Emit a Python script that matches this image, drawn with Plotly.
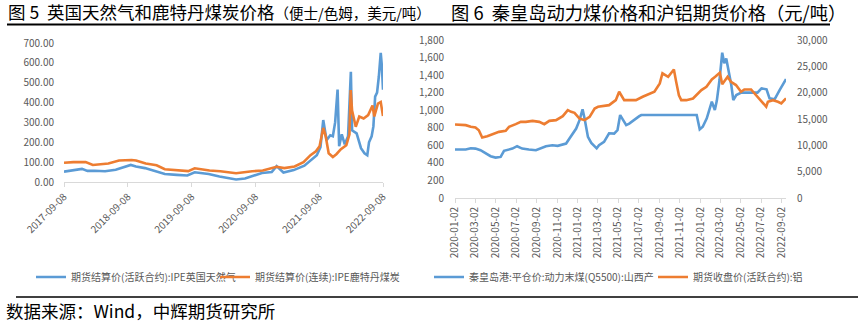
import plotly.graph_objects as go

# ---------------- Left chart data (Fig 5) ----------------
gas_dates = ["2017-09-08","2017-10-15","2017-12-20","2018-01-20","2018-03-01","2018-05-01","2018-07-01",
             "2018-09-25","2018-10-25","2018-12-15","2019-02-15","2019-04-08","2019-06-15","2019-08-15",
             "2019-09-26","2019-12-15","2020-02-15","2020-04-15","2020-05-20","2020-07-10","2020-08-20",
             "2020-10-15","2020-12-10","2021-01-07","2021-02-15","2021-04-15","2021-06-15","2021-07-25",
             "2021-08-25","2021-09-15","2021-10-01","2021-10-20","2021-11-10","2021-11-25","2021-12-08",
             "2021-12-22","2021-12-31","2022-01-15","2022-02-01","2022-02-20","2022-03-08","2022-03-15",
             "2022-04-10","2022-05-05","2022-05-25","2022-06-10","2022-06-20","2022-07-05","2022-07-15",
             "2022-07-25","2022-08-05","2022-08-15","2022-08-26","2022-09-01","2022-09-08"]
gas_vals = [52, 56, 66, 56, 57, 54, 62,
            86, 78, 70, 55, 40, 36, 33,
            49, 40, 28, 20, 13, 18, 28,
            45, 50, 80, 48, 60, 82, 110,
            135, 175, 312, 210, 235, 230, 300,
            465, 180, 240, 190, 230, 555, 260,
            245, 170, 145, 135, 200, 230, 280,
            430, 450, 530, 650, 590, 465]

coal_dates = ["2017-09-08","2017-11-01","2018-01-10","2018-02-20","2018-05-20","2018-07-20","2018-09-30",
              "2018-10-25","2018-12-20","2019-02-20","2019-04-08","2019-06-20","2019-08-20","2019-09-26",
              "2019-12-20","2020-02-20","2020-04-20","2020-05-20","2020-08-20","2020-10-20","2021-01-07",
              "2021-02-20","2021-04-20","2021-06-10","2021-07-20","2021-08-20","2021-09-10","2021-10-01",
              "2021-10-15","2021-11-01","2021-11-25","2021-12-15","2022-01-10","2022-02-10","2022-02-28",
              "2022-03-07","2022-03-15","2022-04-05","2022-04-25","2022-05-20","2022-06-15","2022-07-10",
              "2022-07-20","2022-08-10","2022-08-26","2022-09-08"]
coal_vals = [97, 100, 100, 86, 93, 108, 111,
             108, 93, 84, 64, 60, 55, 69,
             58, 54, 45, 44, 54, 58, 77,
             70, 78, 100, 135, 155, 180, 272,
             230, 145, 126, 140, 165, 185, 240,
             463, 360, 278, 330, 320, 337, 385,
             330, 395, 403, 332]

left_xticks = ["2017-09-08","2018-09-08","2019-09-08","2020-09-08","2021-09-08","2022-09-08"]

# ---------------- Right chart data (Fig 6) ----------------
qhd_dates = ["2020-01-02","2020-02-03","2020-02-18","2020-03-03","2020-03-18","2020-04-02","2020-04-17",
             "2020-05-02","2020-05-17","2020-05-27","2020-06-21","2020-07-05","2020-07-20","2020-08-09",
             "2020-08-30","2020-09-29","2020-10-18","2020-11-03","2020-11-28","2020-12-08","2020-12-28",
             "2021-01-07","2021-01-16","2021-01-22","2021-02-01","2021-02-11","2021-02-27","2021-03-06",
             "2021-03-21","2021-04-05","2021-04-20","2021-04-30","2021-05-08","2021-05-26","2021-06-04",
             "2021-07-04","2021-07-10","2021-12-22","2021-12-31","2022-01-09","2022-01-21","2022-02-05",
             "2022-02-14","2022-02-20","2022-02-28","2022-03-08","2022-03-14","2022-03-20","2022-03-29",
             "2022-04-04","2022-04-10","2022-04-19","2022-05-04","2022-06-21","2022-07-03","2022-07-18",
             "2022-07-27","2022-08-11","2022-08-26","2022-09-14"]
qhd_vals = [552, 552, 567, 563, 544, 506, 476,
            460, 468, 537, 563, 590, 563, 552,
            544, 590, 601, 594, 620, 677, 791,
            887, 1010, 906, 696, 628, 566, 601,
            639, 737, 734, 772, 945, 831, 848,
            932, 945, 945, 782, 812, 907, 1097,
            1002, 1110, 1344, 1655, 1534, 1590, 1420,
            1287, 1116, 1173, 1200, 1200, 1249, 1238,
            1135, 1124, 1230, 1355]

al_dates = ["2020-01-02","2020-02-03","2020-02-18","2020-03-03","2020-03-13","2020-03-23","2020-04-07",
            "2020-04-22","2020-05-12","2020-06-01","2020-06-11","2020-07-01","2020-07-16","2020-07-31",
            "2020-08-20","2020-09-09","2020-09-24","2020-10-09","2020-10-29","2020-11-18","2020-12-03",
            "2020-12-13","2020-12-23","2021-01-07","2021-01-22","2021-02-06","2021-02-21","2021-03-03",
            "2021-03-16","2021-04-05","2021-04-25","2021-05-05","2021-05-20","2021-06-04","2021-06-24",
            "2021-07-14","2021-08-03","2021-08-18","2021-09-03","2021-09-11","2021-09-28","2021-10-15",
            "2021-10-22","2021-10-30","2021-11-06","2021-11-21","2021-12-11","2021-12-26","2022-01-05",
            "2022-01-20","2022-02-05","2022-02-15","2022-03-01","2022-03-08","2022-03-24","2022-04-03",
            "2022-04-18","2022-05-03","2022-05-13","2022-06-02","2022-06-17","2022-07-02","2022-07-17",
            "2022-07-22","2022-08-06","2022-08-21","2022-08-31","2022-09-14"]
al_vals = [13950, 13830, 13510, 13380, 12870, 11480, 11730,
           12110, 12560, 12750, 13510, 14020, 14460, 14460,
           14650, 14460, 14020, 14650, 14780, 15540, 16680,
           16360, 16170, 15090, 14780, 15410, 17000, 17310,
           17440, 17630, 18580, 20170, 18580, 18580, 18580,
           19220, 19850, 20170, 21750, 23680, 23020, 24400,
           22000, 19500, 18580, 18580, 18900, 19980, 20490,
           21120, 22510, 23020, 23780, 21600, 23020, 22070,
           21440, 20170, 20610, 20610, 19530, 18270, 17340,
           18270, 18580, 18270, 17950, 18930]

right_xticks = ["2020-01-02","2020-03-02","2020-05-02","2020-07-02","2020-09-02","2020-11-02",
                "2021-01-02","2021-03-02","2021-05-02","2021-07-02","2021-09-02","2021-11-02",
                "2022-01-02","2022-03-02","2022-05-02","2022-07-02","2022-09-02"]

BLUE = "#5B9BD5"
ORANGE = "#ED7D31"
GRAY = "#595959"
FONT = "Noto Sans CJK SC"
W, H = 866, 322


def px(x):
    return x / W


def py(y):
    return 1 - y / H


fig = go.Figure()
fig.add_trace(go.Scatter(x=gas_dates, y=gas_vals, mode="lines", line=dict(color=BLUE, width=2.6),
                         name="期货结算价(活跃合约):IPE英国天然气", xaxis="x", yaxis="y", legend="legend"))
fig.add_trace(go.Scatter(x=coal_dates, y=coal_vals, mode="lines", line=dict(color=ORANGE, width=2.6),
                         name="期货结算价(连续):IPE鹿特丹煤炭", xaxis="x", yaxis="y", legend="legend2"))
fig.add_trace(go.Scatter(x=qhd_dates, y=qhd_vals, mode="lines", line=dict(color=BLUE, width=2.6),
                         name="秦皇岛港:平仓价:动力末煤(Q5500):山西产", xaxis="x2", yaxis="y2", legend="legend3"))
fig.add_trace(go.Scatter(x=al_dates, y=al_vals, mode="lines", line=dict(color=ORANGE, width=2.6),
                         name="期货收盘价(活跃合约):铝", xaxis="x2", yaxis="y3", legend="legend4"))

tickfont = dict(family=FONT, size=10, color=GRAY)
legfont = dict(family=FONT, size=10, color=GRAY)


def leg(xpix):
    return dict(orientation="h", x=px(xpix), xanchor="left", y=py(277), yanchor="middle",
                font=legfont, itemwidth=30, bgcolor="rgba(0,0,0,0)", borderwidth=0)


fig.update_layout(
    width=W, height=H, autosize=False,
    margin=dict(l=0, r=0, t=0, b=0, pad=0, autoexpand=False),
    paper_bgcolor="white", plot_bgcolor="white",
    font=dict(family=FONT, color=GRAY),
    xaxis=dict(domain=[px(64), px(383)], anchor="y", type="date", automargin=False,
               range=["2017-09-08", "2022-09-08"],
               tickvals=left_xticks, ticktext=left_xticks, tickangle=-45,
               ticks="outside", ticklen=4, tickcolor="#D9D9D9",
               showline=True, linecolor="#D9D9D9", linewidth=1,
               showgrid=False, zeroline=False, tickfont=tickfont),
    yaxis=dict(domain=[py(182), py(43)], anchor="x", range=[0, 700], dtick=100, automargin=False,
               tickformat=".2f", showgrid=False, zeroline=False, showline=False,
               ticks="", ticklabelstandoff=9, tickfont=tickfont),
    xaxis2=dict(domain=[px(455), px(786)], anchor="y2", type="date", automargin=False,
                range=["2020-01-02", "2022-09-14"],
                tickvals=right_xticks, ticktext=right_xticks, tickangle=-90,
                ticks="outside", ticklen=4, tickcolor="#D9D9D9",
                showline=True, linecolor="#D9D9D9", linewidth=1,
                showgrid=False, zeroline=False, tickfont=tickfont),
    yaxis2=dict(domain=[py(198), py(40)], anchor="x2", range=[0, 1800], dtick=200, automargin=False,
                tickformat=",", showgrid=False, zeroline=False, showline=False,
                ticks="", ticklabelstandoff=10, tickfont=tickfont),
    yaxis3=dict(domain=[py(198), py(40)], anchor="x2", overlaying="y2", side="right", automargin=False,
                range=[0, 30000], dtick=5000, tickformat=",",
                showgrid=False, zeroline=False, showline=False,
                ticks="", ticklabelstandoff=10, tickfont=tickfont),
    legend=leg(31),
    legend2=leg(215),
    legend3=leg(429),
    legend4=leg(653),
    showlegend=True,
)

annotations = [
    dict(x=px(6), y=py(12), xref="paper", yref="paper", xanchor="left", yanchor="middle",
         showarrow=False,
         text="图 5  英国天然气和鹿特丹煤炭价格<span style='font-size:14.5px'>（便士/色姆，美元/吨）</span>",
         font=dict(family=FONT, size=17.5, color="#000000")),
    dict(x=px(449), y=py(12), xref="paper", yref="paper", xanchor="left", yanchor="middle",
         showarrow=False,
         text="图 6  秦皇岛动力煤价格和沪铝期货价格（元/吨）",
         font=dict(family=FONT, size=18.3, color="#000000")),
    dict(x=px(4), y=py(310), xref="paper", yref="paper", xanchor="left", yanchor="middle",
         showarrow=False,
         text="数据来源：Wind，中辉期货研究所",
         font=dict(family=FONT, size=17.5, color="#000000")),
]
fig.update_layout(annotations=annotations)

shapes = [
    dict(type="line", xref="paper", yref="paper", x0=px(7), x1=px(830), y0=py(24.5), y1=py(24.5),
         line=dict(color="#000000", width=2)),
    dict(type="line", xref="paper", yref="paper", x0=px(16), x1=px(858), y0=py(297), y1=py(297),
         line=dict(color="#000000", width=1.5)),
]
fig.update_layout(shapes=shapes)

fig.write_html("out.html")
